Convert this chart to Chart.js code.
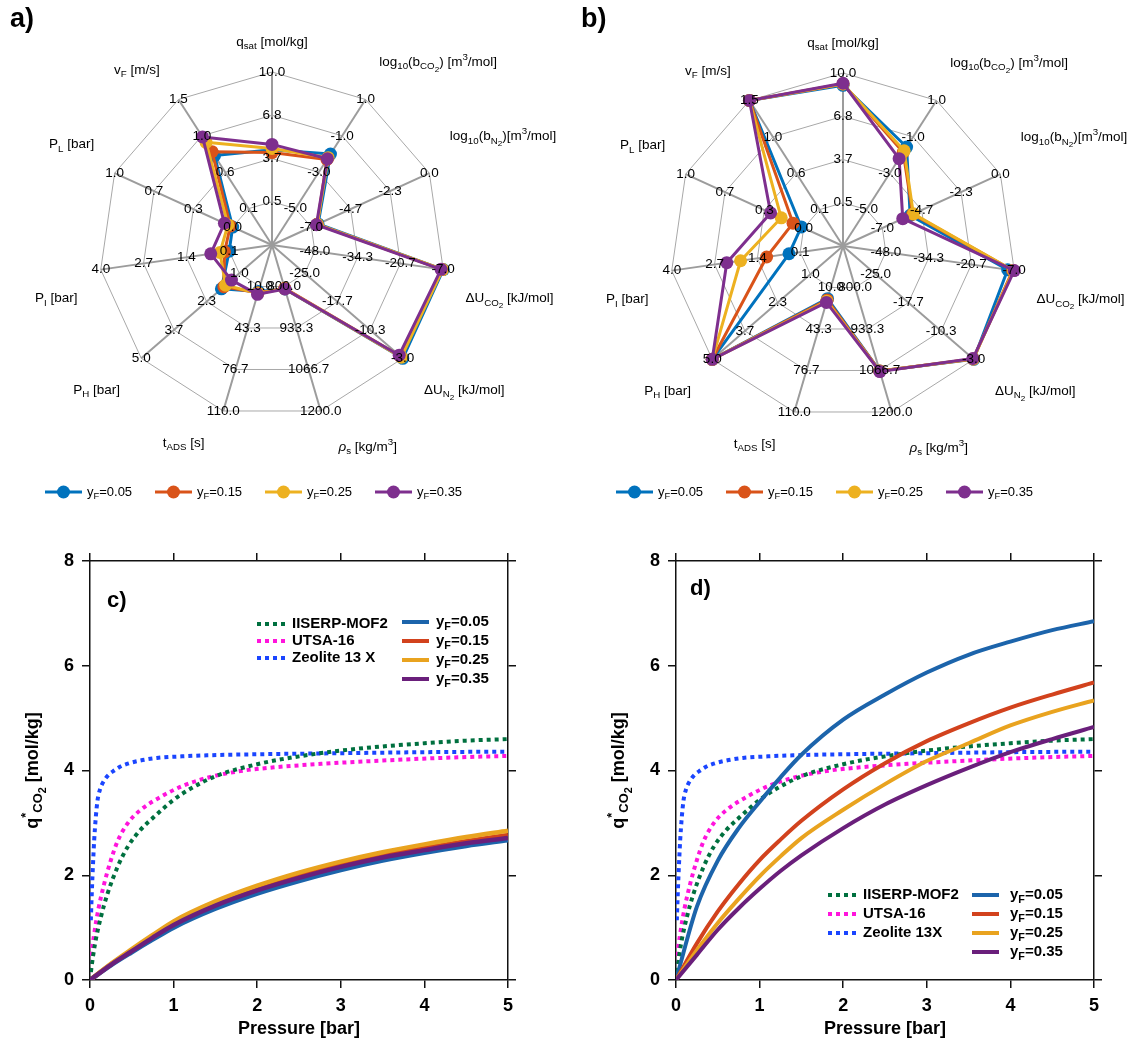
<!DOCTYPE html>
<html>
<head>
<meta charset="utf-8">
<script src="https://cdn.jsdelivr.net/npm/chart.js@4.4.1/dist/chart.umd.min.js"></script>
<style>
  body { margin: 0; background: #fff; }
  #fig { position: relative; width: 1139px; height: 1043px; }
  #fig canvas { position: absolute; }
</style>
</head>
<body>
<div id="fig">
  <canvas id="radarA" width="570" height="520" style="left:0px;top:0px"></canvas>
  <canvas id="radarB" width="568" height="520" style="left:571px;top:0px"></canvas>
  <canvas id="isoC" width="570" height="523" style="left:0px;top:520px"></canvas>
  <canvas id="isoD" width="569" height="523" style="left:570px;top:520px"></canvas>
</div>
<script>
const FONT = "'Liberation Sans', Arial, Helvetica, sans-serif";
Chart.defaults.font.family = FONT;

// ---- spider plot axes (clockwise from the top) ----
const axisNames = ['qsat', 'log10 bCO2', 'log10 bN2', 'dU CO2', 'dU N2', 'rho s', 'tADS', 'PH', 'PI', 'PL', 'vF'];
const axisMin = [0.5, -5, -7, -48, -25, 800, 10, 1, 0.1, 0, 0.1];
const axisMax = [10, 1, 0, -7, -3, 1200, 110, 5, 4, 1, 1.5];

// optimal parameters, panel a
const optA005 = [4.3, -2.0, -6.6, -7.0, -3.0, 808, 14, 1.73, 0.1, 0.0, 0.78];
const optA015 = [4.1, -2.3, -6.65, -7.4, -3.6, 806, 15, 1.63, 0.24, 0.02, 0.83];
const optA025 = [4.4, -2.2, -6.65, -7.2, -3.3, 807, 15.5, 1.56, 0.38, 0.04, 0.95];
const optA035 = [4.7, -2.26, -6.7, -7.7, -3.8, 808, 16.3, 1.32, 0.66, 0.07, 1.02];

// optimal parameters, panel b
const optB005 = [9.1, -1.56, -5.35, -9.1, -3.0, 1068, 19, 5.0, 0.44, 0.02, 1.5];
const optB015 = [9.2, -1.85, -5.2, -7.5, -3.1, 1068, 20, 5.0, 1.12, 0.09, 1.5];
const optB025 = [9.2, -1.77, -5.16, -7.3, -3.1, 1068, 21, 5.0, 1.91, 0.19, 1.5];
const optB035 = [9.25, -2.2, -5.79, -7.0, -3.2, 1070, 22, 5.0, 2.33, 0.28, 1.5];

const feedLabels = ['0.05', '0.15', '0.25', '0.35'];

// ---- CO2 isotherms of the reference materials ----
const mofP = [0, 0.02, 0.06, 0.13, 0.21, 0.33, 0.45, 0.6, 0.77, 1.0, 1.2, 1.5, 2.0, 2.5, 3.0, 3.5, 4.0, 4.5, 5.0];
const mofQ = [0, 0.27, 0.69, 1.2, 1.65, 2.16, 2.54, 2.86, 3.12, 3.44, 3.65, 3.89, 4.12, 4.27, 4.38, 4.46, 4.52, 4.57, 4.60];
const utsaP = [0, 0.02, 0.05, 0.1, 0.17, 0.25, 0.33, 0.45, 0.6, 0.85, 1.1, 1.4, 1.8, 2.2, 2.8, 3.5, 4.2, 5.0];
const utsaQ = [0, 0.5, 0.88, 1.35, 1.84, 2.29, 2.65, 2.99, 3.24, 3.50, 3.70, 3.86, 3.99, 4.06, 4.13, 4.19, 4.24, 4.28];
const zeoP = [0.01, 0.02, 0.03, 0.04, 0.05, 0.07, 0.09, 0.12, 0.17, 0.23, 0.29, 0.37, 0.45, 0.6, 0.8, 1.1, 1.4, 2.0, 3.0, 4.0, 5.0];
const zeoQ = [1.14, 1.6, 2.0, 2.35, 2.67, 3.12, 3.43, 3.64, 3.81, 3.93, 4.0, 4.08, 4.13, 4.19, 4.24, 4.27, 4.29, 4.31, 4.33, 4.35, 4.36];

// ---- isotherms from the optimal parameters ----
const pC = [0, 0.25, 0.5, 0.75, 1, 1.5, 2, 2.5, 3, 3.5, 4, 4.5, 5];
const qC005 = [0, 0.28, 0.53, 0.77, 1.0, 1.36, 1.65, 1.89, 2.10, 2.28, 2.43, 2.56, 2.67];
const qC015 = [0, 0.30, 0.56, 0.82, 1.06, 1.44, 1.73, 1.98, 2.19, 2.37, 2.52, 2.65, 2.77];
const qC025 = [0, 0.31, 0.59, 0.86, 1.12, 1.50, 1.80, 2.05, 2.26, 2.44, 2.59, 2.73, 2.85];
const qC035 = [0, 0.29, 0.55, 0.81, 1.05, 1.42, 1.71, 1.95, 2.16, 2.34, 2.48, 2.61, 2.71];

const pD = [0, 0.25, 0.5, 0.75, 1, 1.25, 1.5, 2, 2.5, 3, 3.5, 4, 4.5, 5];
const qD005 = [0, 1.4, 2.28, 2.9, 3.40, 3.87, 4.30, 4.97, 5.45, 5.87, 6.21, 6.46, 6.68, 6.85];
const qD015 = [0, 0.70, 1.31, 1.83, 2.29, 2.68, 3.04, 3.64, 4.14, 4.56, 4.90, 5.20, 5.45, 5.68];
const qD025 = [0, 0.57, 1.09, 1.55, 1.98, 2.36, 2.71, 3.25, 3.74, 4.18, 4.52, 4.86, 5.12, 5.34];
const qD035 = [0, 0.48, 0.96, 1.37, 1.74, 2.08, 2.38, 2.90, 3.35, 3.72, 4.05, 4.35, 4.60, 4.83];

const radarColors = ['#0072BD', '#D95319', '#EDB120', '#7E2F8E'];
const feedColors = ['#1c64ab', '#d2421d', '#e9a31f', '#6a1f7b'];
const materialColors = ['#00703f', '#ff14dc', '#1a45ff'];

// axis titles as [text, level] pieces: 1 = superscript, -1 = subscript, -2 = sub-subscript
const axisTitles = [
  [['q', 0], ['sat', -1], [' [mol/kg]', 0]],
  [['log', 0], ['10', -1], ['(b', 0], ['CO', -1], ['2', -2], [') [m', 0], ['3', 1], ['/mol]', 0]],
  [['log', 0], ['10', -1], ['(b', 0], ['N', -1], ['2', -2], [')[m', 0], ['3', 1], ['/mol]', 0]],
  [['\u0394U', 0], ['CO', -1], ['2', -2], [' [kJ/mol]', 0]],
  [['\u0394U', 0], ['N', -1], ['2', -2], [' [kJ/mol]', 0]],
  [['\u03c1', 0, 'italic'], ['s', -1], [' [kg/m', 0], ['3', 1], [']', 0]],
  [['t', 0], ['ADS', -1], [' [s]', 0]],
  [['P', 0], ['H', -1], [' [bar]', 0]],
  [['P', 0], ['I', -1], [' [bar]', 0]],
  [['P', 0], ['L', -1], [' [bar]', 0]],
  [['v', 0], ['F', -1], [' [m/s]', 0]]
];
const titleNudge = [[0, 5], [-5, -8], [-11, -22], [-12, 24], [-5, 9], [8, 3], [-9, -1], [5, 9], [11, 24], [11, -14], [0, 0]];

function drawRich(ctx, parts, x, y, align, size, weight) {
  const sizeOf = lv => lv === 0 ? size : (lv === -2 ? size * 0.6 : size * 0.72);
  const shiftOf = lv => lv === 0 ? 0 : (lv === 1 ? -size * 0.38 : (lv === -1 ? size * 0.32 : size * 0.55));
  const fontOf = p => (p[2] || '') + ' ' + weight + ' ' + sizeOf(p[1]) + 'px ' + FONT;
  let w = 0;
  parts.forEach(p => { ctx.font = fontOf(p); w += ctx.measureText(p[0]).width; });
  let cx = align === 'left' ? x : (align === 'right' ? x - w : x - w / 2);
  ctx.textAlign = 'left';
  ctx.textBaseline = 'middle';
  parts.forEach(p => {
    ctx.font = fontOf(p);
    ctx.fillText(p[0], cx, y + shiftOf(p[1]));
    cx += ctx.measureText(p[0]).width;
  });
}

// each axis has its own range; ring 1 is the minimum, ring 4 the maximum
const toRing = (v, i) => 1 + 3 * (v - axisMin[i]) / (axisMax[i] - axisMin[i]);

function makeRadarDecor(letter) {
  return {
    id: 'radarDecor',
    afterDatasetsDraw(chart) {
      const ctx = chart.ctx;
      const r = chart.scales.r;
      ctx.save();
      ctx.fillStyle = '#000';
      ctx.font = '13.5px ' + FONT;
      ctx.textAlign = 'center';
      ctx.textBaseline = 'middle';
      axisMin.forEach((lo, i) => {
        const step = (axisMax[i] - lo) / 3;
        for (let k = 1; k <= 4; k++) {
          const p = r.getPointPosition(i, r.getDistanceFromCenterForValue(k));
          ctx.fillText((lo + (k - 1) * step).toFixed(1), p.x, p.y);
        }
      });
      axisTitles.forEach((parts, i) => {
        const p = r.getPointPosition(i, r.drawingArea * 1.2);
        const dx = p.x - r.xCenter;
        const align = Math.abs(dx) < 10 ? 'center' : (dx > 0 ? 'left' : 'right');
        drawRich(ctx, parts, p.x + titleNudge[i][0], p.y + titleNudge[i][1], align, 13.5, 'normal');
      });
      // legend row under the web
      radarColors.forEach((c, k) => {
        const x0 = 45 + 110 * k, y0 = 492;
        ctx.strokeStyle = c;
        ctx.lineWidth = 3;
        ctx.beginPath(); ctx.moveTo(x0, y0); ctx.lineTo(x0 + 37, y0); ctx.stroke();
        ctx.fillStyle = c;
        ctx.beginPath(); ctx.arc(x0 + 18.5, y0, 6.5, 0, Math.PI * 2); ctx.fill();
        ctx.fillStyle = '#000';
        drawRich(ctx, [['y', 0], ['F', -1], ['=' + feedLabels[k], 0]], x0 + 42, y0, 'left', 13, 'normal');
      });
      ctx.font = 'bold 27px ' + FONT;
      ctx.textAlign = 'left';
      ctx.fillText(letter, 10, 20);
      ctx.restore();
    }
  };
}

function radarChart(id, series, letter, pad) {
  new Chart(document.getElementById(id), {
    type: 'radar',
    data: {
      labels: axisNames,
      datasets: series.map((vals, k) => ({
        label: 'yF=' + feedLabels[k],
        data: vals.map(toRing),
        borderColor: radarColors[k],
        backgroundColor: radarColors[k],
        pointBackgroundColor: radarColors[k],
        pointBorderColor: radarColors[k],
        pointRadius: 6.5,
        pointBorderWidth: 0,
        borderWidth: 3,
        borderJoinStyle: 'round',
        fill: false,
        order: 4 - k
      }))
    },
    options: {
      responsive: false,
      animation: false,
      layout: { padding: pad },
      plugins: { legend: { display: false }, tooltip: { enabled: false } },
      scales: {
        r: {
          min: 0,
          max: 4,
          ticks: { display: false, stepSize: 1 },
          grid: { circular: false, color: '#a8a8a8', lineWidth: 1 },
          angleLines: { color: '#9c9c9c', lineWidth: 2 },
          pointLabels: { display: false }
        }
      }
    },
    plugins: [makeRadarDecor(letter)]
  });
}

radarChart('radarA', [optA005, optA015, optA025, optA035], 'a)', { left: 99, top: 72, right: 125, bottom: 102 });
radarChart('radarB', [optB005, optB015, optB025, optB035], 'b)', { left: 99, top: 73, right: 123, bottom: 101 });

// ---- isotherm panels ----
const zip = (p, q) => p.map((x, i) => ({ x: x, y: q[i] }));

function makeIsoDecor(cfg) {
  return {
    id: 'isoDecor',
    afterDraw(chart) {
      const ctx = chart.ctx, a = chart.chartArea;
      ctx.save();
      ctx.fillStyle = '#000';
      drawRich(ctx, [['Pressure [bar]', 0]], (a.left + a.right) / 2, a.bottom + 49, 'center', 18, 'bold');
      ctx.save();
      ctx.translate(a.left - 57, (a.top + a.bottom) / 2);
      ctx.rotate(-Math.PI / 2);
      drawRich(ctx, [['q', 0], ['*', 1], ['CO', -1], ['2', -2], [' [mol/kg]', 0]], 0, 0, 'center', 18, 'bold');
      ctx.restore();
      ctx.font = 'bold 22px ' + FONT;
      ctx.textAlign = 'left';
      ctx.textBaseline = 'middle';
      ctx.fillText(cfg.letter, cfg.letterX, cfg.letterY);
      // two-column legend
      const names = ['IISERP-MOF2', 'UTSA-16', cfg.zeolite];
      names.forEach((n, k) => {
        const y = cfg.dotRows[k];
        ctx.strokeStyle = materialColors[k];
        ctx.lineWidth = 4;
        ctx.setLineDash([4, 4]);
        ctx.beginPath(); ctx.moveTo(cfg.dotX, y); ctx.lineTo(cfg.dotX + 28, y); ctx.stroke();
        ctx.setLineDash([]);
        drawRich(ctx, [[n, 0]], cfg.dotX + 35, y, 'left', 15, 'bold');
      });
      feedLabels.forEach((f, k) => {
        const y = cfg.feedRows[k];
        ctx.strokeStyle = feedColors[k];
        ctx.lineWidth = 4;
        ctx.beginPath(); ctx.moveTo(cfg.feedX, y); ctx.lineTo(cfg.feedX + 27, y); ctx.stroke();
        drawRich(ctx, [['y', 0], ['F', -1], ['=' + f, 0]], cfg.feedTextX, y, 'left', 15, 'bold');
      });
      ctx.restore();
    }
  };
}

function isoChart(id, pFeed, qFeeds, solidWidth, cfg) {
  const frameGrid = { drawOnChartArea: false, drawTicks: true, tickLength: 8, color: '#111', lineWidth: 1.5 };
  const frameBorder = { display: true, color: '#111', width: 1.5 };
  const tickFont = { family: FONT, size: 18, weight: 'bold' };
  const materials = [[mofP, mofQ], [utsaP, utsaQ], [zeoP, zeoQ]];
  const datasets = [];
  qFeeds.forEach((q, k) => datasets.push({
    label: 'yF=' + feedLabels[k],
    data: zip(pFeed, q),
    borderColor: feedColors[k],
    borderWidth: solidWidth,
    order: [4, 3, 2, 1][k]
  }));
  materials.forEach((m, k) => datasets.push({
    label: ['IISERP-MOF2', 'UTSA-16', cfg.zeolite][k],
    data: zip(m[0], m[1]),
    borderColor: materialColors[k],
    borderWidth: 4,
    borderDash: [4, 4],
    order: 10 + k
  }));
  new Chart(document.getElementById(id), {
    type: 'line',
    data: { datasets: datasets },
    options: {
      responsive: false,
      animation: false,
      layout: { padding: 0 },
      elements: { point: { radius: 0 }, line: { cubicInterpolationMode: 'monotone', fill: false } },
      plugins: { legend: { display: false }, tooltip: { enabled: false } },
      scales: {
        x: {
          type: 'linear', position: 'bottom', min: 0, max: 5,
          grid: frameGrid, border: frameBorder,
          ticks: { stepSize: 1, font: tickFont, color: '#000', padding: 7, maxRotation: 0 },
          afterFit: s => { s.height = cfg.bottom; }
        },
        xTop: {
          axis: 'x', type: 'linear', position: 'top', min: 0, max: 5,
          grid: frameGrid, border: frameBorder,
          ticks: { stepSize: 1, display: false },
          afterFit: s => { s.height = cfg.top; }
        },
        y: {
          type: 'linear', position: 'left', min: 0, max: 8,
          grid: frameGrid, border: frameBorder,
          ticks: { stepSize: 2, font: tickFont, color: '#000', padding: 8 },
          afterFit: s => { s.width = cfg.left; }
        },
        yRight: {
          axis: 'y', type: 'linear', position: 'right', min: 0, max: 8,
          grid: frameGrid, border: frameBorder,
          ticks: { stepSize: 2, display: false },
          afterFit: s => { s.width = cfg.right; }
        }
      }
    },
    plugins: [makeIsoDecor(cfg)]
  });
}

isoChart('isoC', pC, [qC005, qC015, qC025, qC035], 4.5, {
  left: 90, right: 62, top: 41, bottom: 63,
  letter: 'c)', letterX: 107, letterY: 81, zeolite: 'Zeolite 13 X',
  dotX: 257, dotRows: [104, 121, 138],
  feedX: 402, feedTextX: 436, feedRows: [102, 121, 140, 159]
});
isoChart('isoD', pD, [qD005, qD015, qD025, qD035], 4, {
  left: 106, right: 45, top: 41, bottom: 63,
  letter: 'd)', letterX: 120, letterY: 69, zeolite: 'Zeolite 13X',
  dotX: 258, dotRows: [375, 394, 413],
  feedX: 402, feedTextX: 440, feedRows: [375, 394, 413, 432]
});
</script>
</body>
</html>
